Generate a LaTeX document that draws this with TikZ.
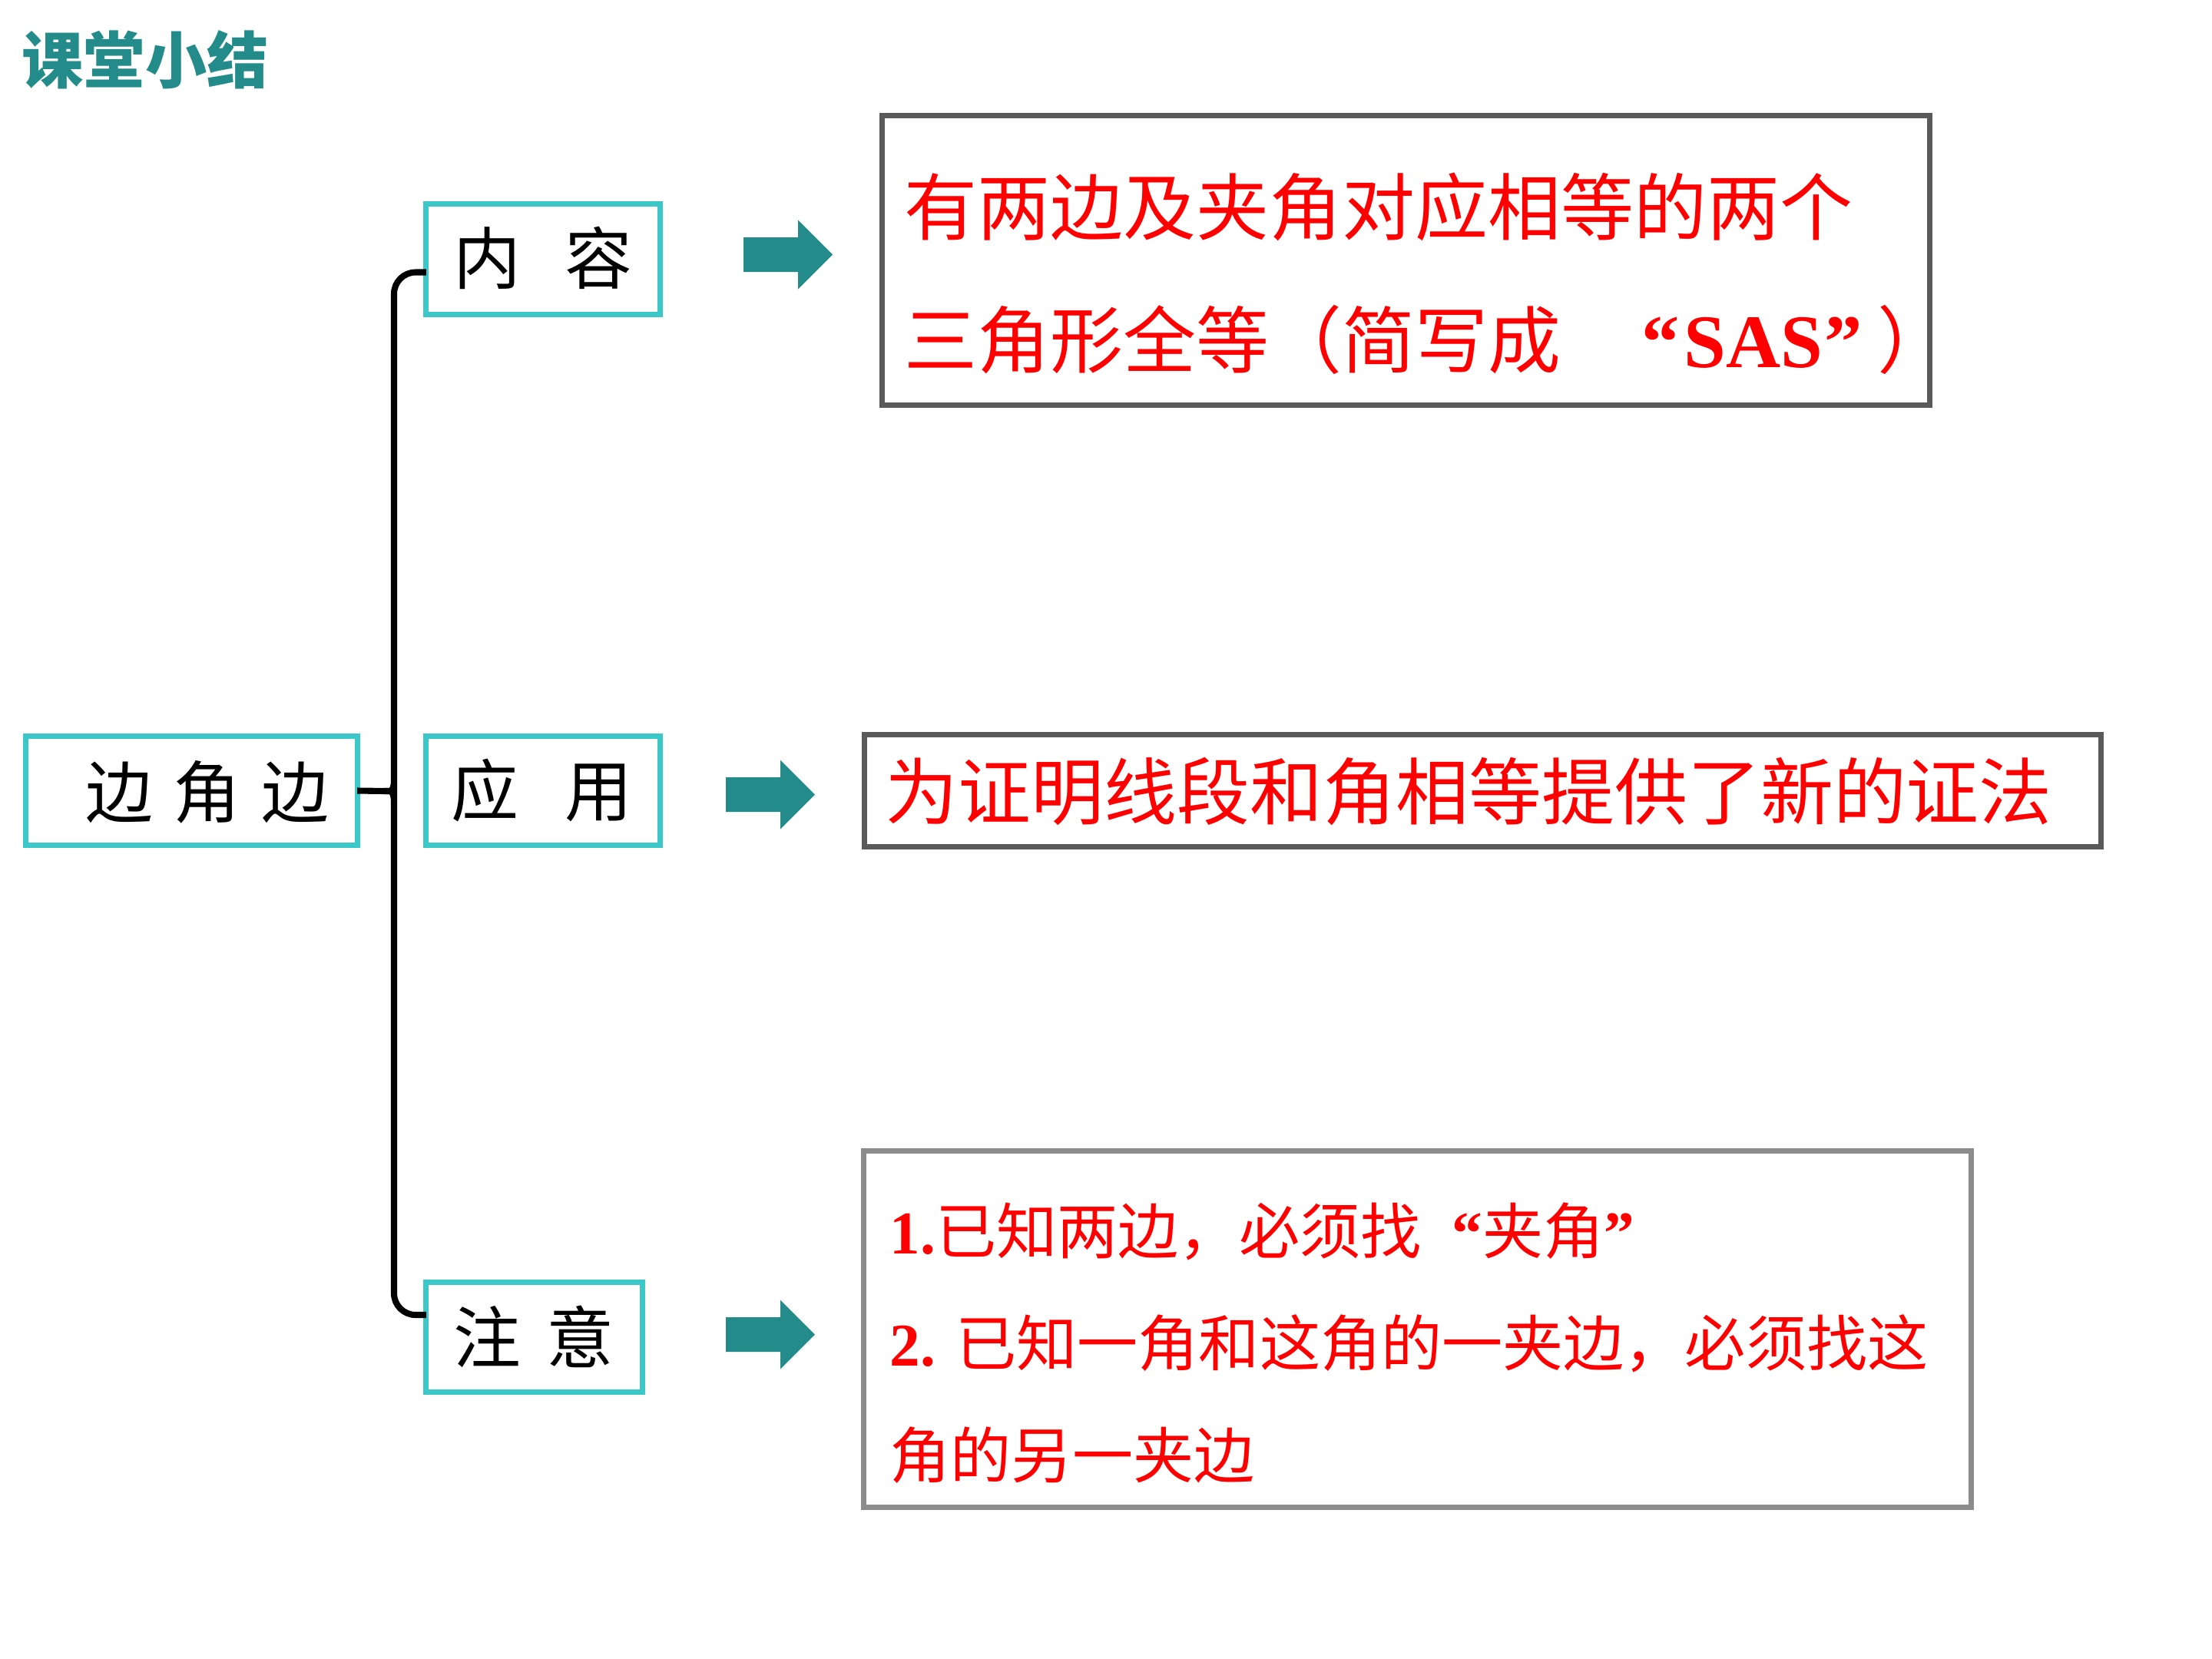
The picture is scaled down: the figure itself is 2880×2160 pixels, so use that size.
\documentclass[tikz,border=0pt]{standalone}
\usepackage{fontspec}
\newfontfamily\cjk{Noto Sans CJK SC}
\newfontfamily\tnr{Liberation Serif}
\usetikzlibrary{calc}
\definecolor{cyanb}{HTML}{3CC8C8}
\definecolor{tealc}{HTML}{238C8A}
\definecolor{gdark}{HTML}{5A5A5A}
\definecolor{glight}{HTML}{8C8C8C}
\newcommand\fql[1]{\makebox[1em][r]{\tnr\bfseries #1}}
\newcommand\fqr[1]{\makebox[1em][l]{\tnr\bfseries #1}}
\tikzset{
  cbox/.style={draw=cyanb, line width=2pt, inner sep=0pt, outer sep=0pt},
  gbox/.style={draw=gdark, line width=2pt, inner sep=0pt, outer sep=0pt},
  lbox/.style={draw=glight, line width=2pt, inner sep=0pt, outer sep=0pt},
  lab/.style={anchor=base west, inner sep=0pt, font=\cjk\fontsize{25}{30}\selectfont},
  redbig/.style={anchor=base west, inner sep=0pt, text=red, font=\cjk\fontsize{27}{32}\selectfont},
  redsmall/.style={anchor=base west, inner sep=0pt, text=red, font=\cjk\fontsize{22.5}{27}\selectfont},
  brk/.style={line width=2.3pt, black},
  tarrow/.pic={\fill[tealc] (0,-22.5) -- (71,-22.5) -- (71,-45) -- (116,0) -- (71,45) -- (71,22.5) -- (0,22.5) -- cycle;}
}
\begin{document}
\begin{tikzpicture}[x=0.01cm,y=-0.01cm]
\fill[white] (0,0) rectangle (2880,2160);
\useasboundingbox (0,0) rectangle (2880,2160);
% title
\node[anchor=base west, inner sep=0pt, text=tealc, font=\cjk\bfseries\fontsize{22.8}{27}\selectfont] (title) at (28,108) {课堂小结};
% cyan boxes
\node[cbox, minimum width=4.31cm, minimum height=1.41cm] (bjb) at (249.5,1029.5) {};
\node[cbox, minimum width=3.04cm, minimum height=1.43cm] (nr) at (707,337.5) {};
\node[cbox, minimum width=3.04cm, minimum height=1.41cm] (yy) at (707,1029.5) {};
\node[cbox, minimum width=2.81cm, minimum height=1.42cm] (zy) at (695.5,1741) {};
% labels
\node[lab] (tbjb) at (111,1064) {边\hspace{0.3em}角\hspace{0.3em}边};
\node[lab] (tnr) at (590,369) {内\hspace{0.65em}容};
\node[lab] (tyy) at (587,1062) {应\hspace{0.68em}用};
\node[lab] (tzy) at (590,1774) {注\hspace{0.375em}意};
% brace
\coordinate (bx) at (513,1030);
\draw[brk, rounded corners=8] ($(nr.west)+(0,17)$) -| (bx) |- ($(zy.west)+(0,-29)$);
\draw[brk] (bjb.east) -- ($(bx)+(-12,0)$);
\draw[brk] ($(bx)+(-12,0)$) .. controls ($(bx)+(-2,0)$) .. ($(bx)+(0,-10)$);
\draw[brk] ($(bx)+(-12,0)$) .. controls ($(bx)+(-2,0)$) .. ($(bx)+(0,10)$);
% arrows
\pic at (968,331.5) {tarrow};
\pic at (945,1034.5) {tarrow};
\pic at (945,1737.5) {tarrow};
% right boxes
\node[gbox, minimum width=13.63cm, minimum height=3.76cm] (b1) at (1830.5,339) {};
\node[gbox, minimum width=16.09cm, minimum height=1.45cm] (b2) at (1930.5,1029.5) {};
\node[lbox, minimum width=14.41cm, minimum height=4.63cm] (b3) at (1845.5,1730.5) {};
% box 1 text
\node[redbig] (r1a) at (1177,305) {有两边及夹角对应相等的两个};
\node[redbig] (r1b) at (1177,478) {三角形全等（简写成};
\node[anchor=base west, inner sep=0pt, text=red, font=\tnr\bfseries\fontsize{28}{32}\selectfont] (sas) at (2137,478) {“\kern0.06em SAS\kern0.02em”};
\node[redbig] (r1c) at (2444,478) {）};
% box 2 text
\node[redbig] (r2) at (1152,1066) {为证明线段和角相等提供了新的证法};
% box 3 text
\node[redsmall] (r3a) at (1158,1632) {{\tnr\bfseries 1.}已知两边，必须找\fql{“}夹角\fqr{”}};
\node[redsmall] (r3b) at (1158,1778) {{\tnr\bfseries 2. }已知一角和这角的一夹边，必须找这};
\node[redsmall] (r3c) at (1158,1924) {角的另一夹边};
\end{tikzpicture}
\end{document}
